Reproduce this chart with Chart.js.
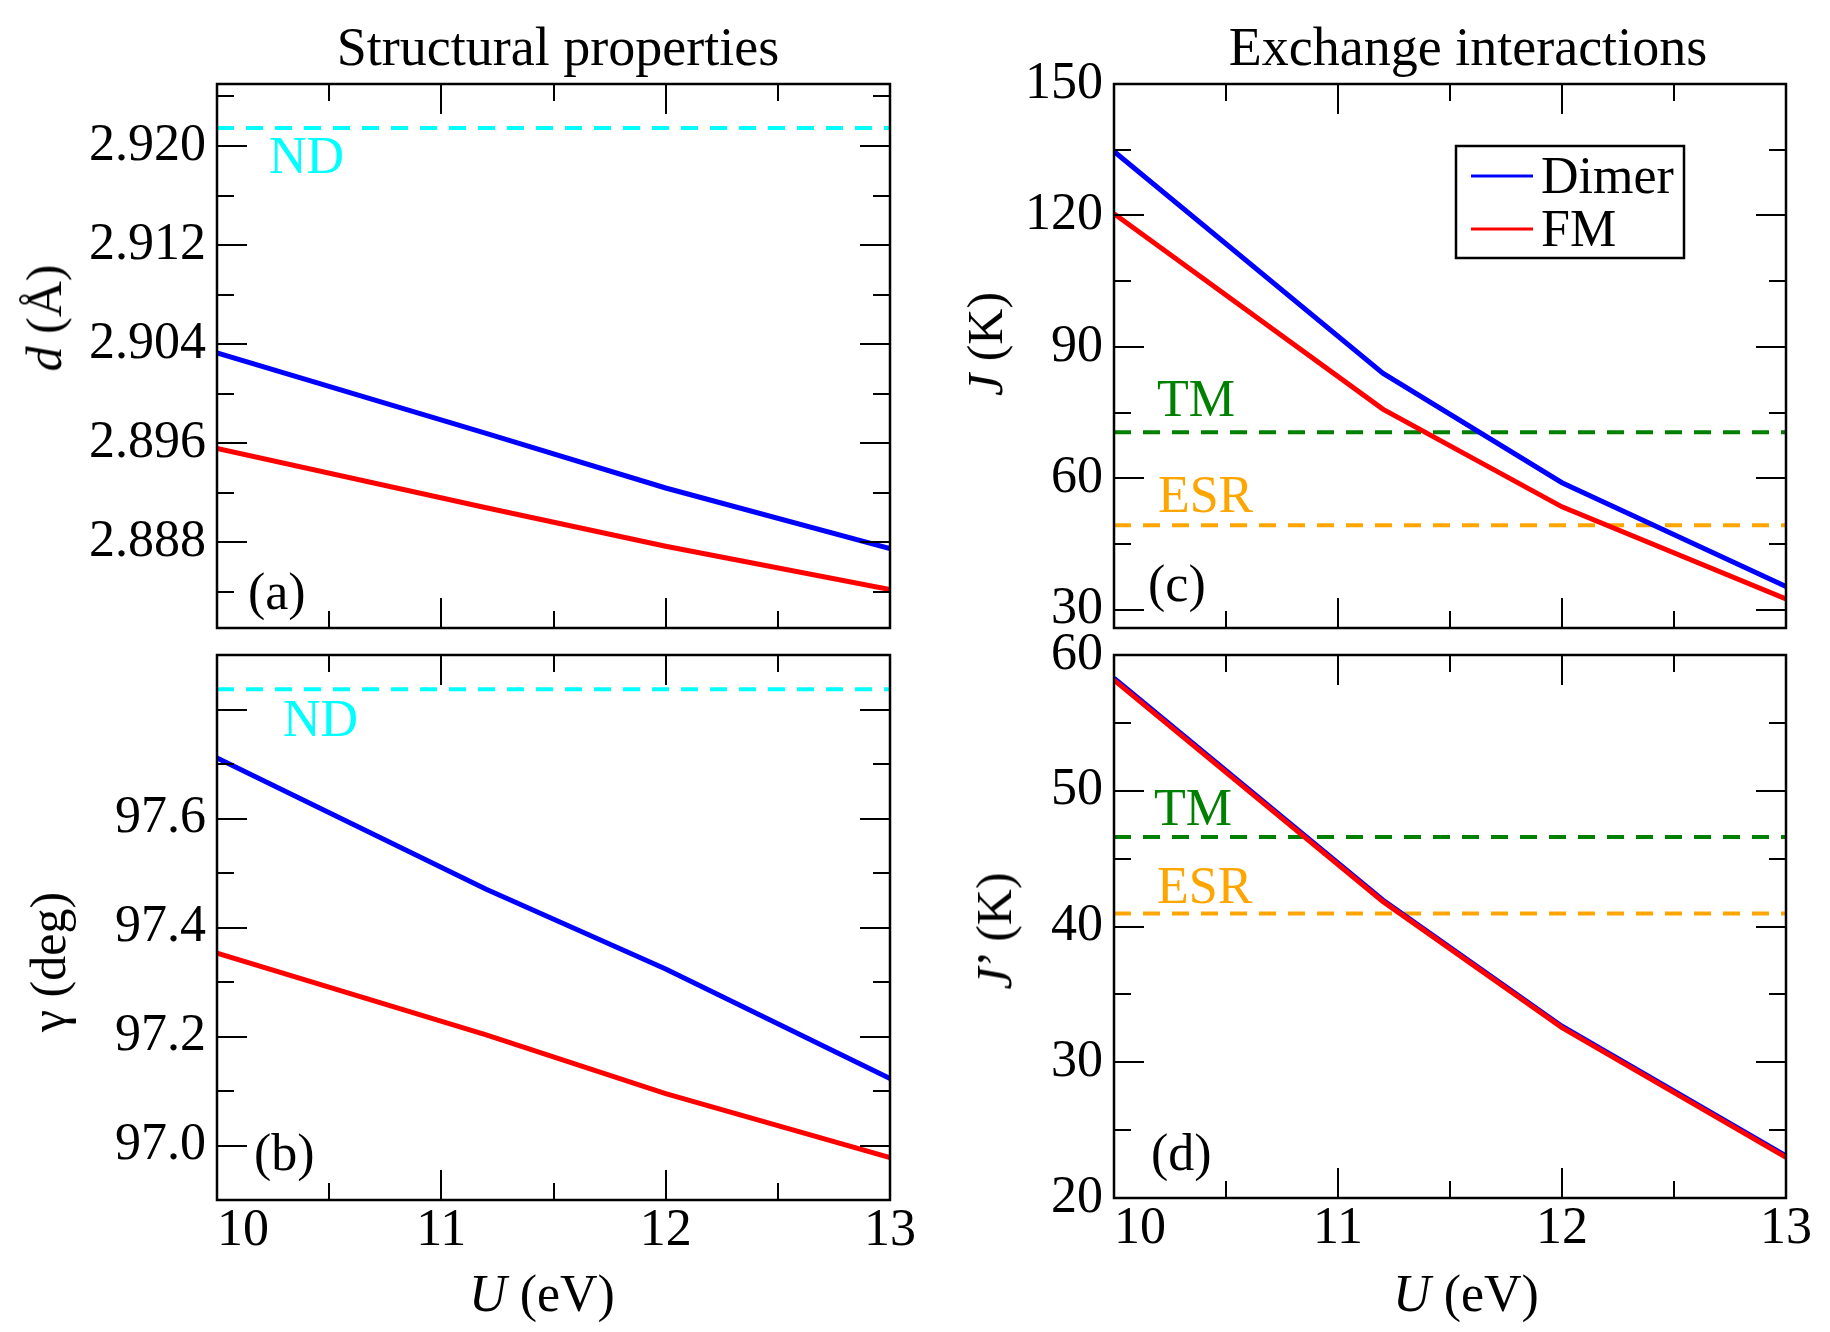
<!DOCTYPE html>
<html>
<head>
<meta charset="utf-8">
<script src="https://cdn.jsdelivr.net/npm/chart.js@4.4.1/dist/chart.umd.min.js"></script>
<style>
html,body{margin:0;padding:0;background:#fff;}
#wrap{position:relative;width:1830px;height:1332px;overflow:hidden;background:#fff;}
#wrap canvas{position:absolute;left:0;top:0;}
.txt{position:absolute;font-family:'Liberation Serif','Times New Roman',serif;line-height:1;white-space:nowrap;color:#000;}
.rot{transform:translate(-50%,-50%) rotate(-90deg);}
.hc{transform:translateX(-50%);}
</style>
</head>
<body>
<div id="wrap">
  <canvas id="pa" width="1830" height="1332"></canvas>
  <canvas id="pb" width="1830" height="1332"></canvas>
  <canvas id="pc" width="1830" height="1332"></canvas>
  <canvas id="pd" width="1830" height="1332"></canvas>

  <div class="txt hc" style="left:558px;top:20px;font-size:54px;">Structural properties</div>
  <div class="txt hc" style="left:1468px;top:20px;font-size:54px;">Exchange interactions</div>

  <div class="txt rot" style="left:44px;top:318px;font-size:50px;"><i>d</i> (Å)</div>
  <div class="txt rot" style="left:48px;top:962px;font-size:50px;">γ (deg)</div>
  <div class="txt rot" style="left:985px;top:344px;font-size:50px;"><i>J</i> (K)</div>
  <div class="txt rot" style="left:994px;top:931px;font-size:50px;"><i>J</i>’ (K)</div>

  <div class="txt hc" style="left:542px;top:1268px;font-size:52px;"><i>U</i> (eV)</div>
  <div class="txt hc" style="left:1466px;top:1268px;font-size:52px;"><i>U</i> (eV)</div>
</div>

<script>
// ---------------- data ----------------
const U = [10, 11.2, 12, 13];

const dDimer = [2.9033, 2.8968, 2.8924, 2.8875];
const dFM    = [2.8956, 2.8908, 2.8877, 2.8842];

const gammaDimer = [97.711, 97.470, 97.324, 97.123];
const gammaFM    = [97.353, 97.203, 97.095, 96.978];

const JDimer = [134.6, 84.0, 59.0, 35.3];
const JFM    = [120.4, 75.8, 53.5, 32.5];

const JpDimer = [58.3, 41.95, 32.65, 23.1];
const JpFM    = [58.15, 41.85, 32.55, 23.0];

const ND_d = 2.92145;
const ND_gamma = 97.837;
const TM_J = 70.5, ESR_J = 49.3;
const TM_Jp = 46.6, ESR_Jp = 40.95;

const seriesNames = ['Dimer', 'FM'];

// ---------------- ticks ----------------
const xTicks = [10, 11, 12, 13];
const xMinor = [10.5, 11.5, 12.5];

const dTicks = [2.888, 2.896, 2.904, 2.912, 2.920];
const dMinor = [2.884, 2.892, 2.900, 2.908, 2.916, 2.924];

const gTickLabels = [97.0, 97.2, 97.4, 97.6];
const gMajor = [97.0, 97.2, 97.4, 97.6, 97.8];
const gMinor = [97.1, 97.3, 97.5, 97.7];

const JTicks = [30, 60, 90, 120, 150];
const JMinor = [45, 75, 105, 135];

const JpTicks = [20, 30, 40, 50, 60];
const JpMinor = [25, 35, 45, 55];

// ---------------- styling ----------------
const FONT = "'Liberation Serif', 'Times New Roman', serif";
const BLUE = '#0000ff', RED = '#ff0000', CYAN = '#00ffff', GREEN = '#008000', ORANGE = '#ffa500';
const W = 1830, H = 1332, YW = 130;
const DASH = [17, 12];

const framePlugin = {
  id: 'frame',
  afterDatasetsDraw(chart, args, o) {
    const ctx = chart.ctx, a = chart.chartArea;
    const xs = chart.scales.x, ys = chart.scales.y;
    ctx.save();
    ctx.strokeStyle = '#000';
    ctx.lineWidth = 2;
    ctx.lineCap = 'butt';
    const MAJ = 30, MIN = 17;
    ctx.beginPath();
    const xt = (vals, len) => vals.forEach(v => {
      const p = Math.round(xs.getPixelForValue(v));
      ctx.moveTo(p, a.bottom); ctx.lineTo(p, a.bottom - len);
      ctx.moveTo(p, a.top); ctx.lineTo(p, a.top + len);
    });
    const yt = (vals, len) => vals.forEach(v => {
      const p = Math.round(ys.getPixelForValue(v));
      ctx.moveTo(a.left, p); ctx.lineTo(a.left + len, p);
      ctx.moveTo(a.right, p); ctx.lineTo(a.right - len, p);
    });
    xt(o.xMajor, MAJ); xt(o.xMinor, MIN);
    yt(o.yMajor, MAJ); yt(o.yMinor, MIN);
    ctx.stroke();
    ctx.lineWidth = 2.5;
    ctx.strokeRect(a.left, a.top, a.right - a.left, a.bottom - a.top);

    // annotations
    ctx.textBaseline = 'alphabetic';
    ctx.textAlign = 'left';
    ctx.font = '52px ' + FONT;
    (o.notes || []).forEach(n => {
      ctx.fillStyle = n.color;
      ctx.fillText(n.text, xs.getPixelForValue(n.x), ys.getPixelForValue(n.y));
    });

    // legend
    if (o.legend) {
      const bl = a.right - 330, bt = a.top + 62, bw = 228, bh = 112;
      ctx.fillStyle = '#fff';
      ctx.fillRect(bl, bt, bw, bh);
      ctx.lineWidth = 2.5;
      ctx.strokeStyle = '#000';
      ctx.strokeRect(bl, bt, bw, bh);
      const rows = [bt + 30, bt + 83];
      o.legend.forEach((idx, i) => {
        const ds = chart.data.datasets[idx];
        ctx.strokeStyle = ds.borderColor;
        ctx.lineWidth = 3;
        ctx.beginPath();
        ctx.moveTo(bl + 15, rows[i]); ctx.lineTo(bl + 77, rows[i]);
        ctx.stroke();
        ctx.fillStyle = '#000';
        ctx.font = '52px ' + FONT;
        ctx.fillText(ds.label, bl + 85, rows[i] + 17);
      });
    }
    ctx.restore();
  }
};

function pts(ys) { return U.map((u, i) => ({x: u, y: ys[i]})); }
function hline(v) { return [{x: 10, y: v}, {x: 13, y: v}]; }

function makePanel(id, area, cfg) {
  const XH = cfg.showX ? 60 : 10;
  const datasets = [
    {label: seriesNames[1], data: pts(cfg.fm), borderColor: RED, borderWidth: 5, pointRadius: 0, tension: 0, order: 1},
    {label: seriesNames[0], data: pts(cfg.dimer), borderColor: BLUE, borderWidth: 5, pointRadius: 0, tension: 0, order: 2}
  ];
  cfg.refs.forEach(r => datasets.push({
    label: r.label, data: hline(r.v), borderColor: r.color, borderWidth: 4,
    borderDash: DASH, pointRadius: 0, tension: 0, order: 3
  }));
  return new Chart(document.getElementById(id), {
    type: 'line',
    data: {datasets},
    options: {
      responsive: false, animation: false, devicePixelRatio: 1, events: [],
      layout: {padding: {left: area.l - YW, right: W - area.r, top: area.t, bottom: H - area.b - XH}},
      plugins: {
        legend: {display: false}, tooltip: {enabled: false},
        frame: {xMajor: xTicks, xMinor: xMinor, yMajor: cfg.yMajor, yMinor: cfg.yMinor,
                notes: cfg.notes, legend: cfg.legend}
      },
      scales: {
        x: {
          type: 'linear', min: 10, max: 13,
          grid: {display: false, drawTicks: false, tickLength: 0}, border: {display: false},
          afterBuildTicks: s => { s.ticks = xTicks.map(v => ({value: v})); },
          afterFit: s => { s.height = XH; },
          ticks: {display: cfg.showX, padding: 0, color: '#000', maxRotation: 0, autoSkip: false,
                  font: {family: FONT, size: 52},
                  // first label sits just right of the axis corner, as in the original
                  callback: (v, i) => (i === 0 ? '\u2003' : '') + String(v)}
        },
        y: {
          type: 'linear', min: cfg.min, max: cfg.max,
          grid: {display: false, drawTicks: false, tickLength: 0}, border: {display: false},
          afterBuildTicks: s => { s.ticks = cfg.yLabels.map(v => ({value: v})); },
          afterFit: s => { s.width = YW; },
          ticks: {padding: 11, color: '#000', autoSkip: false,
                  font: {family: FONT, size: 52}, callback: v => v.toFixed(cfg.dec)}
        }
      }
    },
    plugins: [framePlugin]
  });
}

makePanel('pa', {l: 217, r: 890, t: 84, b: 628}, {
  dimer: dDimer, fm: dFM, min: 2.8811, max: 2.925, dec: 3,
  yLabels: dTicks, yMajor: dTicks, yMinor: dMinor, showX: false,
  refs: [{label: 'ND', v: ND_d, color: CYAN}],
  notes: [{text: 'ND', x: 10.232, y: 2.91782, color: CYAN},
          {text: '(a)', x: 10.138, y: 2.88265, color: '#000'}]
});

makePanel('pb', {l: 217, r: 890, t: 655, b: 1200}, {
  dimer: gammaDimer, fm: gammaFM, min: 96.9, max: 97.9, dec: 1,
  yLabels: gTickLabels, yMajor: gMajor, yMinor: gMinor, showX: true,
  refs: [{label: 'ND', v: ND_gamma, color: CYAN}],
  notes: [{text: 'ND', x: 10.294, y: 97.7515, color: CYAN},
          {text: '(b)', x: 10.165, y: 96.955, color: '#000'}]
});

makePanel('pc', {l: 1114, r: 1786, t: 84, b: 628}, {
  dimer: JDimer, fm: JFM, min: 25.85, max: 150, dec: 0,
  yLabels: JTicks, yMajor: JTicks, yMinor: JMinor, showX: false,
  refs: [{label: 'TM', v: TM_J, color: GREEN}, {label: 'ESR', v: ESR_J, color: ORANGE}],
  notes: [{text: 'TM', x: 10.192, y: 74.15, color: GREEN},
          {text: 'ESR', x: 10.196, y: 52.28, color: ORANGE},
          {text: '(c)', x: 10.152, y: 32.0, color: '#000'}],
  legend: [1, 0]
});

makePanel('pd', {l: 1114, r: 1786, t: 655, b: 1198}, {
  dimer: JpDimer, fm: JpFM, min: 20, max: 60, dec: 0,
  yLabels: JpTicks, yMajor: JpTicks, yMinor: JpMinor, showX: true,
  refs: [{label: 'TM', v: TM_Jp, color: GREEN}, {label: 'ESR', v: ESR_Jp, color: ORANGE}],
  notes: [{text: 'TM', x: 10.179, y: 47.45, color: GREEN},
          {text: 'ESR', x: 10.192, y: 41.75, color: ORANGE},
          {text: '(d)', x: 10.165, y: 22.05, color: '#000'}]
});
</script>
</body>
</html>
